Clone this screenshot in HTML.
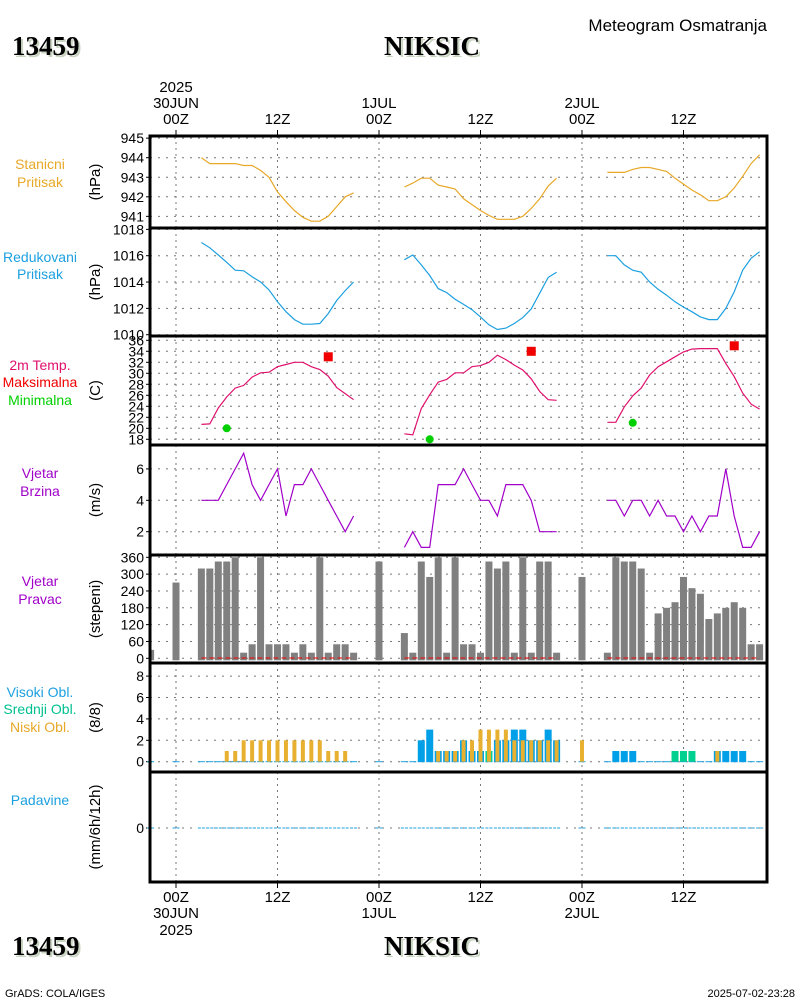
<!DOCTYPE html>
<html><head><meta charset="utf-8"><title>Meteogram NIKSIC</title>
<style>
html,body{margin:0;padding:0;background:#fff;}
svg{display:block;font-family:"Liberation Sans",sans-serif;}
.title{font-family:"Liberation Serif",serif;font-weight:bold;font-size:27px;}
</style></head>
<body>
<svg id="chart" width="800" height="1000" viewBox="0 0 800 1000" xmlns="http://www.w3.org/2000/svg">
<rect x="0" y="0" width="800" height="1000" fill="#fff"/>
<g>
<text x="14" y="57" class="title" fill="#c8d4c0">13459</text>
<text x="12" y="55" class="title" fill="#000">13459</text>
<text x="434" y="57" class="title" fill="#c8d4c0" text-anchor="middle">NIKSIC</text>
<text x="432" y="55" class="title" fill="#000" text-anchor="middle">NIKSIC</text>
<text x="767" y="31" font-size="17" text-anchor="end" fill="#000">Meteogram Osmatranja</text>
</g>
<g>
<text x="14" y="957" class="title" fill="#c8d4c0">13459</text>
<text x="12" y="955" class="title" fill="#000">13459</text>
<text x="434" y="957" class="title" fill="#c8d4c0" text-anchor="middle">NIKSIC</text>
<text x="432" y="955" class="title" fill="#000" text-anchor="middle">NIKSIC</text>
<text x="5" y="997" font-size="11" fill="#000">GrADS: COLA/IGES</text>
<text x="795" y="997" font-size="11" text-anchor="end" fill="#000">2025-07-02-23:28</text>
</g>
<g id="labels" font-size="14" text-anchor="middle">
<text x="40" y="169" fill="#e8a828">Stanicni</text>
<text x="40" y="187" fill="#e8a828">Pritisak</text>
<text x="40" y="262" fill="#1ca0e0">Redukovani</text>
<text x="40" y="279" fill="#1ca0e0">Pritisak</text>
<text x="40" y="370" fill="#e0106e">2m Temp.</text>
<text x="40" y="387" fill="#f00000">Maksimalna</text>
<text x="40" y="405" fill="#00d000">Minimalna</text>
<text x="40" y="478" fill="#a000c8">Vjetar</text>
<text x="40" y="496" fill="#a000c8">Brzina</text>
<text x="40" y="586" fill="#a000c8">Vjetar</text>
<text x="40" y="604" fill="#a000c8">Pravac</text>
<text x="40" y="697" fill="#1ca0e0">Visoki Obl.</text>
<text x="40" y="714" fill="#00c090">Srednji Obl.</text>
<text x="40" y="732" fill="#e8a828">Niski Obl.</text>
<text x="40" y="805" fill="#1ca0e0">Padavine</text>
</g>
</svg>
<script>
// ---- data ----
var blockStarts = [3, 27, 51];
var stationP = [
 [944.0,943.7,943.7,943.7,943.7,943.6,943.6,943.35,943.0,942.25,941.75,941.3,940.95,940.75,940.75,941.0,941.5,942.0,942.2],
 [942.5,942.7,942.95,942.95,942.6,942.5,942.4,941.9,941.6,941.3,941.05,940.85,940.85,940.85,941.0,941.4,941.9,942.55,942.95],
 [943.25,943.25,943.25,943.4,943.5,943.5,943.4,943.3,942.95,942.65,942.35,942.1,941.8,941.8,942.0,942.45,943.05,943.7,944.15]];
var reducedP = [
 [1017.0,1016.6,1016.05,1015.5,1014.9,1014.85,1014.4,1014.0,1013.4,1012.5,1011.75,1011.15,1010.8,1010.8,1010.85,1011.6,1012.6,1013.35,1014.0],
 [1015.7,1016.05,1015.3,1014.5,1013.5,1013.2,1012.7,1012.3,1011.9,1011.35,1010.75,1010.4,1010.5,1010.85,1011.3,1011.95,1013.15,1014.35,1014.75],
 [1016.0,1016.0,1015.3,1014.9,1014.75,1014.0,1013.45,1013.0,1012.5,1012.1,1011.75,1011.35,1011.15,1011.15,1012.0,1013.25,1014.9,1015.8,1016.3]];
var temp2m = [
 [20.7,20.8,23.7,25.7,27.3,27.8,29.3,30.1,30.2,31.2,31.6,32.0,32.0,31.2,30.7,29.5,27.4,26.3,25.2],
 [19.0,18.8,23.6,26.1,28.4,28.9,30.1,30.1,31.2,31.4,32.0,33.3,32.5,31.5,30.6,29.0,26.7,25.2,25.1],
 [21.1,21.1,23.9,25.9,27.3,29.7,31.2,32.1,33.0,33.9,34.4,34.5,34.5,34.5,31.8,29.4,26.4,24.4,23.5]];
var maxHours = [18, 42, 66];
var maxTemps = [33, 34, 35];
var minHours = [6, 30, 54];
var minTemps = [20, 18, 21];
var windSpeed = [
 [4,4,4,5,6,7,5,4,5,6,3,5,5,6,5,4,3,2,3],
 [1,2,1,1,5,5,5,6,5,4,4,3,5,5,5,4,2,2,2],
 [4,4,3,4,4,3,4,3,3,2,3,2,3,3,6,3,1,1,2]];
var obsHours = [-3,0,3,4,5,6,7,8,9,10,11,12,13,14,15,16,17,18,19,20,21,24,27,28,29,30,31,32,33,34,35,36,37,38,39,40,41,42,43,44,45,48,51,52,53,54,55,56,57,58,59,60,61,62,63,64,65,66,67,68,69];
var windDir = [30,270,320,320,345,345,360,20,50,360,50,50,50,20,50,20,360,20,50,50,20,345,90,20,345,290,360,20,360,50,50,20,345,320,345,20,360,20,345,345,20,290,20,360,345,345,320,20,160,180,200,290,250,230,140,160,180,200,180,50,50];
var lowCloud = [0,0,0,0,0,1,1,2,2,2,2,2,2,2,2,2,2,1,1,1,0,0,0,0,0,0,1,1,1,2,2,3,3,3,3,2,2,2,2,2,2,2,0,0,0,0,0,0,0,0,0,0,0,0,0,1,0,0,0,0,0];
var midCloud = [0,0,0,0,0,0,0,0,0,0,0,0,0,0,0,0,0,0,0,0,0,0,0,0,0,0,0,0,0,0,0,0,1,0,0,0,0,0,0,0,0,0,0,0,0,0,0,0,0,0,1,1,1,0,0,0,0,0,0,0,0];
var highCloud = [0,0,0,0,0,0,0,0,0,0,0,0,0,0,0,0,0,0,0,0,0,0,0,0,2,3,1,1,1,2,1,1,0,2,2,3,3,2,2,3,2,0,0,1,1,1,0,0,0,0,0,0,0,0,0,1,1,1,1,0,0];
var precip = [0,0,0,0,0,0,0,0,0,0,0,0,0,0,0,0,0,0,0,0,0,0,0,0,0,0,0,0,0,0,0,0,0,0,0,0,0,0,0,0,0,0,0,0,0,0,0,0,0,0,0,0,0,0,0,0,0,0,0,0,0];
var tickP1 = [941,942,943,944,945];
var tickP2 = [1010,1012,1014,1016,1018];
var tickP3 = [18,20,22,24,26,28,30,32,34,36];
var tickP4 = [2,4,6];
var tickP5 = [0,60,120,180,240,300,360];
var tickP6 = [0,2,4,6,8];
var tickP7 = [0];
var timeTickHours = [0,12,24,36,48,60];

// ---- scales ----
var X0 = 150, X1 = 767;
function xs(h){ return 176 + h*8.458; }
var panels = [
 {name:'station-pressure', top:136, bot:228, ticks:tickP1, y:function(v){return 157.7-(v-944)*19.55;}, unit:'(hPa)'},
 {name:'reduced-pressure', top:228, bot:336, ticks:tickP2, y:function(v){return 255.7-(v-1016)*13.17;}, unit:'(hPa)'},
 {name:'temperature', top:336, bot:445, ticks:tickP3, y:function(v){return 428.3-(v-20)*5.5;}, unit:'(C)'},
 {name:'wind-speed', top:445, bot:555, ticks:tickP4, y:function(v){return 500.3-(v-4)*15.7;}, unit:'(m/s)'},
 {name:'wind-direction', top:555, bot:663, ticks:tickP5, y:function(v){return 658.3-v*101/360;}, unit:'(stepeni)'},
 {name:'clouds', top:663, bot:772, ticks:tickP6, y:function(v){return 761.7-v*10.7;}, unit:'(8/8)'},
 {name:'precipitation', top:772, bot:882, ticks:tickP7, y:function(v){return 828-v*20;}, unit:'(mm/6h/12h)'}
];
var NS='http://www.w3.org/2000/svg';
var svg=document.getElementById('chart');
function mk(tag, attrs, parent){ var e=document.createElementNS(NS,tag); for(var k in attrs) e.setAttribute(k,attrs[k]); (parent||svg).appendChild(e); return e; }

panels.forEach(function(p){
  var g=mk('g',{});
  
  
  timeTickHours.forEach(function(h){
    var l=mk('line',{x1:xs(h),x2:xs(h),y1:p.top,y2:p.bot,stroke:'#777','stroke-width':1,'stroke-dasharray':'2,4'},g);
    
    
  });
  p.ticks.forEach(function(t){
    var yy=p.y(t);
    var l=mk('line',{x1:X0,x2:X1,y1:yy,y2:yy,stroke:'#777','stroke-width':1,'stroke-dasharray':'2,6'},g);
    
    
    var tk=mk('line',{x1:X0-4,x2:X0,y1:yy,y2:yy,stroke:'#000','stroke-width':1},g);
    
    
    var tx=mk('text',{x:X0-6,y:yy+5,'font-size':14,'text-anchor':'end',fill:'#000'},g);
    tx.textContent=String(t);
    
    
  });
  var cy=(p.top+p.bot)/2;
  var u=mk('text',{x:0,y:0,'font-size':15,'text-anchor':'middle',fill:'#000',transform:'translate(100,'+cy+') rotate(-90)'},g);
  u.textContent=p.unit;
  
  
  p.g=g;
});

function drawLines(p, blocks, color, nm){
  blocks.forEach(function(vals,bi){
    var pts=vals.map(function(v,i){return xs(blockStarts[bi]+i).toFixed(1)+','+p.y(v).toFixed(1);}).join(' ');
    var pl=mk('polyline',{points:pts,fill:'none',stroke:color,'stroke-width':1.2},p.g);
    
    
  });
}
drawLines(panels[0], stationP, '#e8a828', 'station-pressure');
drawLines(panels[1], reducedP, '#1ca0e0', 'reduced-pressure');
drawLines(panels[2], temp2m, '#e0106e', 'temperature');
drawLines(panels[3], windSpeed, '#a000c8', 'wind-speed');

maxHours.forEach(function(h,i){
  var r=mk('rect',{x:xs(h)-4.5,y:panels[2].y(maxTemps[i])-4.5,width:9,height:9,fill:'#f00000'},panels[2].g);
  
  
});
minHours.forEach(function(h,i){
  var c=mk('circle',{cx:xs(h),cy:panels[2].y(minTemps[i]),r:4,fill:'#00d000'},panels[2].g);
  
  
});

var pd=panels[4];
obsHours.forEach(function(h,i){
  var y0=pd.y(0), y1=pd.y(windDir[i]);
  var xl=Math.max(X0,xs(h)-3.5), xr=xs(h)+3.5;
  var b=mk('rect',{x:xl,y:y1,width:xr-xl,height:y0-y1+2,fill:'#808080'},pd.g);
  
  
});
[[3,21],[27,45],[51,69]].forEach(function(r){
  var l=mk('line',{x1:xs(r[0]),x2:xs(r[1]),y1:658,y2:658,stroke:'#f00000','stroke-width':1,'stroke-dasharray':'5,3'},pd.g);
  
  
});

var pc=panels[5];
obsHours.forEach(function(h,i){
  var x=xs(h), y0=pc.y(0);
  var zm=mk('line',{x1:x-3.5,x2:x+3.5,y1:y0,y2:y0,stroke:'#1ca0e0','stroke-width':1},pc.g);
  
  
  if(highCloud[i]>0){
    var b=mk('rect',{x:x-3.5,y:pc.y(highCloud[i]),width:7,height:y0-pc.y(highCloud[i]),fill:'#00a0e8'},pc.g);
    
    
  }
  if(midCloud[i]>0){
    var m=mk('rect',{x:x-3.5,y:pc.y(midCloud[i]),width:7,height:y0-pc.y(midCloud[i]),fill:'#00d090'},pc.g);
    
    
  }
  if(lowCloud[i]>0){
    var o=mk('rect',{x:x-2,y:pc.y(lowCloud[i]),width:4,height:y0-pc.y(lowCloud[i]),fill:'#e8b030'},pc.g);
    
    
  }
});

var pp=panels[6];
obsHours.forEach(function(h,i){
  var yv=pp.y(precip[i]);
  var l=mk('line',{x1:xs(h)-3.5,x2:xs(h)+3.5,y1:yv,y2:yv,stroke:'#1ca0e0','stroke-width':1,'stroke-dasharray':'3,1'},pp.g);
  
  
});

panels.forEach(function(p){
  var f=mk('rect',{x:X0,y:p.top,width:X1-X0,height:p.bot-p.top,fill:'none',stroke:'#000','stroke-width':3});
  
  
});

var topLab=[['2025','30JUN','00Z'],['','','12Z'],['','1JUL','00Z'],['','','12Z'],['','2JUL','00Z'],['','','12Z']];
var botLab=[['00Z','30JUN','2025'],['12Z','',''],['00Z','1JUL',''],['12Z','',''],['00Z','2JUL',''],['12Z','','']];
timeTickHours.forEach(function(h,i){
  var x=xs(h);
  var t1=mk('line',{x1:x,x2:x,y1:130,y2:136,stroke:'#000','stroke-width':1});
  
  
  var t2=mk('line',{x1:x,x2:x,y1:882,y2:888,stroke:'#000','stroke-width':1});
  
  
  [92,108,124].forEach(function(yy,k){
    if(!topLab[i][k]) return;
    var t=mk('text',{x:x,y:yy,'font-size':15,'text-anchor':'middle',fill:'#000'});
    t.textContent=topLab[i][k];
    
    
  });
  [902,918,935].forEach(function(yy,k){
    if(!botLab[i][k]) return;
    var t=mk('text',{x:x,y:yy,'font-size':15,'text-anchor':'middle',fill:'#000'});
    t.textContent=botLab[i][k];
    
    
  });
});
</script>
</body></html>
